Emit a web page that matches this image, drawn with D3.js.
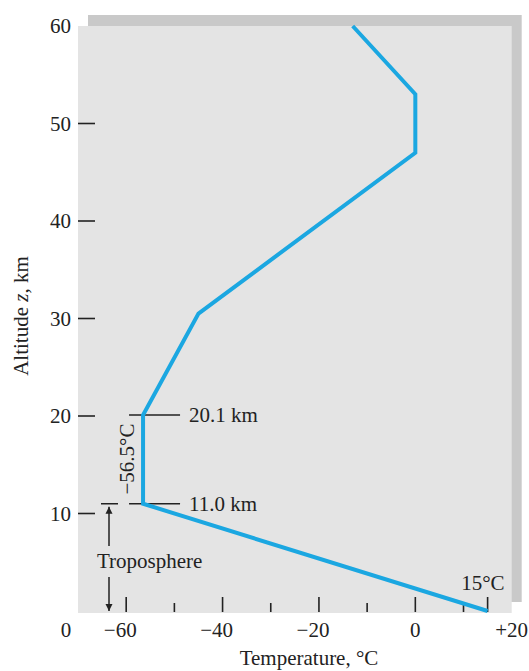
<!DOCTYPE html>
<html>
<head>
<meta charset="utf-8">
<script src="https://cdn.jsdelivr.net/npm/d3@7"></script>
<style>
  body { margin: 0; background: #fff; }
  svg text { font-family: "Liberation Serif", "Times New Roman", serif; fill: #222; }
</style>
</head>
<body>
<div id="chart"></div>
<script>
// Standard atmosphere profile: temperature (°C) vs altitude (km)
const temps = [15, -56.5, -56.5, -45, 0, 0, -13];
const altitudes = [0, 11.0, 20.1, 30.5, 47, 53, 60];

const yTicks = [10, 20, 30, 40, 50];
const yLabels = [10, 20, 30, 40, 50, 60];
const xMajorTicks = [-60, -40, -20, 0, 15];
const xMinorTicks = [-50, -30, -10, 10];
const xLabels = [
  { v: -60, t: "\u221260" },
  { v: -40, t: "\u221240" },
  { v: -20, t: "\u221220" },
  { v: 0, t: "0" },
  { v: 20, t: "+20" }
];

const width = 529, height = 671;

const svg = d3.select("#chart")
  .append("svg")
  .attr("width", width)
  .attr("height", height);

const x = d3.scaleLinear().domain([-70, 20]).range([78, 511.7]);
const y = d3.scaleLinear().domain([0, 60]).range([611, 26]);

const panelColor = "#e4e4e4";
const shadowColor = "#c9c9c9";
const lineColor = "#1ba7e1";
const ink = "#222";

// shadow behind the panel (offset up and right)
svg.append("rect")
  .attr("x", x(-70) + 10).attr("y", y(60) - 11)
  .attr("width", x(20) - x(-70)).attr("height", y(0) - y(60) + 2)
  .attr("fill", shadowColor);

svg.append("rect")
  .attr("x", x(-70)).attr("y", y(60))
  .attr("width", x(20) - x(-70)).attr("height", y(0) - y(60) + 2)
  .attr("fill", panelColor);

// y ticks, drawn inward from the panel edge
svg.selectAll(".ytick")
  .data(yTicks)
  .enter()
  .append("line")
  .attr("x1", x(-70)).attr("x2", x(-70) + 17)
  .attr("y1", d => y(d)).attr("y2", d => y(d))
  .attr("stroke", ink).attr("stroke-width", 1.6);

svg.selectAll(".ylab")
  .data(yLabels)
  .enter()
  .append("text")
  .attr("x", 71)
  .attr("y", d => y(d) + 7)
  .attr("text-anchor", "end")
  .attr("font-size", 21)
  .text(d => d);

// origin label
svg.append("text")
  .attr("x", 66).attr("y", 637)
  .attr("text-anchor", "middle")
  .attr("font-size", 21)
  .text("0");

// x ticks point up from the panel bottom
const xBase = y(0) + 1;
svg.selectAll(".xmaj")
  .data(xMajorTicks)
  .enter()
  .append("line")
  .attr("x1", d => x(d)).attr("x2", d => x(d))
  .attr("y1", xBase).attr("y2", xBase - 15)
  .attr("stroke", ink).attr("stroke-width", 1.6);

svg.selectAll(".xmin")
  .data(xMinorTicks)
  .enter()
  .append("line")
  .attr("x1", d => x(d)).attr("x2", d => x(d))
  .attr("y1", xBase).attr("y2", xBase - 9)
  .attr("stroke", ink).attr("stroke-width", 1.6);

svg.selectAll(".xlab")
  .data(xLabels)
  .enter()
  .append("text")
  .attr("x", d => d.v < 0 ? x(d.v) + 10.5 : (d.v === 0 ? x(d.v) : width - 1))
  .attr("y", 637)
  .attr("text-anchor", d => d.v === 0 ? "middle" : "end")
  .attr("font-size", 21)
  .text(d => d.t);

// axis titles
svg.append("text")
  .attr("x", 309).attr("y", 665)
  .attr("text-anchor", "middle")
  .attr("font-size", 21)
  .text("Temperature, \u00B0C");

const yTitle = svg.append("text")
  .attr("transform", "translate(28,316) rotate(-90)")
  .attr("text-anchor", "middle")
  .attr("font-size", 21);
yTitle.append("tspan").text("Altitude ");
yTitle.append("tspan").attr("font-style", "italic").text("z");
yTitle.append("tspan").text(", km");

// annotation lines at tropopause boundaries
const xTrop = x(-56.5);
[20.1, 11.0].forEach(a => {
  svg.append("line")
    .attr("x1", xTrop - 14).attr("x2", xTrop + 37)
    .attr("y1", y(a)).attr("y2", y(a))
    .attr("stroke", ink).attr("stroke-width", 1.5);
  svg.append("text")
    .attr("x", xTrop + 46).attr("y", y(a) + 7)
    .attr("font-size", 21)
    .text(a.toFixed(1) + " km");
});

// short marker at 11 km over the troposphere arrow
const xArrow = 109;
svg.append("line")
  .attr("x1", xArrow - 8).attr("x2", xArrow + 9)
  .attr("y1", y(11)).attr("y2", y(11))
  .attr("stroke", ink).attr("stroke-width", 1.5);

const defs = svg.append("defs");
defs.append("marker")
  .attr("id", "arrow")
  .attr("viewBox", "0 0 10 10")
  .attr("refX", 10).attr("refY", 5)
  .attr("markerWidth", 7).attr("markerHeight", 10)
  .attr("markerUnits", "userSpaceOnUse")
  .attr("orient", "auto")
  .append("path")
  .attr("d", "M0,0 L10,5 L0,10 Z")
  .attr("fill", ink);

svg.append("line")
  .attr("x1", xArrow).attr("x2", xArrow)
  .attr("y1", 546).attr("y2", y(11) + 3)
  .attr("stroke", ink).attr("stroke-width", 1.5)
  .attr("marker-end", "url(#arrow)");

svg.append("line")
  .attr("x1", xArrow).attr("x2", xArrow)
  .attr("y1", 577).attr("y2", y(0))
  .attr("stroke", ink).attr("stroke-width", 1.5)
  .attr("marker-end", "url(#arrow)");

svg.append("text")
  .attr("x", 97).attr("y", 568)
  .attr("font-size", 21)
  .text("Troposphere");

svg.append("text")
  .attr("transform", `translate(${xTrop - 9},459) rotate(-90)`)
  .attr("text-anchor", "middle")
  .attr("font-size", 21)
  .text("\u221256.5\u00B0C");

svg.append("text")
  .attr("x", x(15) + 17).attr("y", 590)
  .attr("text-anchor", "end")
  .attr("font-size", 21)
  .text("15\u00B0C");

// temperature profile
const line = d3.line()
  .x(d => x(d[0]))
  .y(d => y(d[1]));

svg.append("path")
  .datum(temps.map((t, i) => [t, altitudes[i]]))
  .attr("d", line)
  .attr("fill", "none")
  .attr("stroke", lineColor)
  .attr("stroke-width", 4)
  .attr("stroke-linejoin", "miter");
</script>
</body>
</html>
